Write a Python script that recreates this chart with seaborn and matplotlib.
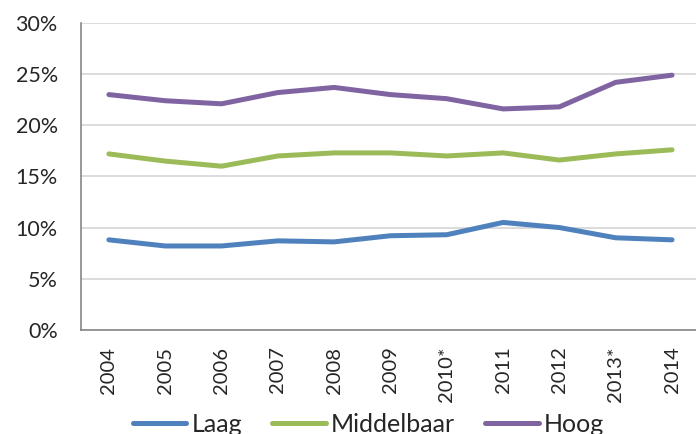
import pandas as pd
import seaborn as sns
import matplotlib.pyplot as plt
from matplotlib.ticker import FixedLocator, PercentFormatter

# ---- data ----
years = ["2004", "2005", "2006", "2007", "2008", "2009", "2010*", "2011", "2012", "2013*", "2014"]
laag = [8.8, 8.2, 8.2, 8.7, 8.6, 9.2, 9.3, 10.5, 10.0, 9.0, 8.8]
middelbaar = [17.2, 16.5, 16.0, 17.0, 17.3, 17.3, 17.0, 17.3, 16.6, 17.2, 17.6]
hoog = [23.0, 22.4, 22.1, 23.2, 23.7, 23.0, 22.6, 21.6, 21.8, 24.2, 24.9]
series = ["Laag", "Middelbaar", "Hoog"]
colors = ["#4F81BD", "#9BBB59", "#8064A2"]

# long format for seaborn
df = pd.DataFrame({
    "pos": list(range(len(years))) * 3,
    "value": laag + middelbaar + hoog,
    "groep": [s for s in series for _ in years],
})

sns.set_style("white")
plt.rcParams["font.family"] = ["Lato", "DejaVu Sans"]

fig = plt.figure(figsize=(6.96, 4.34), dpi=100)
ax = fig.add_axes([0.116, 0.240, 0.890, 0.707])

sns.lineplot(data=df, x="pos", y="value", hue="groep", hue_order=series,
             palette=colors, linewidth=3.6, ax=ax, legend=False,
             solid_capstyle="round")

# y axis
ax.set_ylim(0, 30)
ax.set_yticks(range(0, 31, 5))
ax.yaxis.set_major_formatter(PercentFormatter(decimals=0))
ax.grid(axis="y", color="#D9D9D9", linewidth=1.3)
ax.set_axisbelow(True)

# x axis: labels at centres, tick marks between categories
ax.set_xlim(-0.5, len(years) - 0.5)
ax.set_xticks(range(len(years)))
ax.set_xticklabels(years, rotation=90, va="top", ha="center")
ax.xaxis.set_minor_locator(FixedLocator([i - 0.5 for i in range(len(years) + 1)]))
ax.tick_params(axis="x", which="major", length=0, pad=12, labelsize=14.5)
ax.tick_params(axis="x", which="minor", length=6.5, width=1.2, color="#868686")
ax.tick_params(axis="y", length=6.5, width=1.2, color="#868686", labelsize=15.5, pad=10)
ax.set_xlabel("")
ax.set_ylabel("")

for side in ["top", "right"]:
    ax.spines[side].set_visible(False)
for side in ["left", "bottom"]:
    ax.spines[side].set_color("#868686")
    ax.spines[side].set_linewidth(1.2)

# legend sits at the very bottom, partly cut off like the original
handles = [plt.Line2D([], [], color=c, linewidth=3.6, solid_capstyle="round") for c in colors]
fig.legend(handles, series, loc="center", bbox_to_anchor=(0.529, 0.022), ncol=3,
           frameon=False, fontsize=18, handlelength=2.15, handletextpad=0.2,
           columnspacing=1.2)

fig.savefig("out.png", dpi=100)
plt.close()
